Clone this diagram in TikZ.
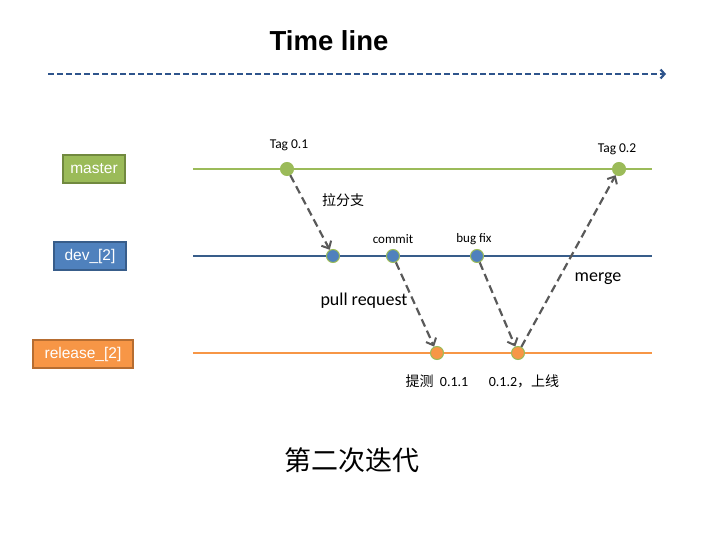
\documentclass[tikz,border=0pt]{standalone}
\usepackage{fontspec}
\setmainfont{Liberation Sans}
\newfontfamily\carfont{Carlito}
\newfontfamily\cjk{Noto Sans CJK SC}
\usepackage{tikz}
\usepackage{xcolor}
\usetikzlibrary{arrows.meta, positioning}
\definecolor{cGreen}{RGB}{155,187,89}
\definecolor{cGreenD}{RGB}{113,137,63}
\definecolor{cBlue}{RGB}{79,129,189}
\definecolor{cBlueD}{RGB}{56,93,138}
\definecolor{cOrange}{RGB}{247,150,70}
\definecolor{cOrangeD}{RGB}{182,109,49}
\definecolor{cTime}{RGB}{46,84,140}
\definecolor{cArrow}{RGB}{89,89,89}
\tikzset{
	branch/.style   ={rectangle, draw, line width=1.2pt, text=white, minimum height=28pt, inner xsep=4pt, font=\fontsize{15.5}{15.5}\selectfont},
	commitdot/.style={circle, draw=cGreen, line width=1pt, minimum size=13pt, inner sep=0pt},
	lbl/.style      ={font=\carfont\fontsize{13.5}{13.5}\selectfont, text=black},
	flow/.style     ={-{Straight Barb[length=6pt, width=11pt, line width=2pt]}, dash pattern=on 8pt off 4.5pt, line width=2.2pt, cArrow},
}

\begin{document}
\begin{tikzpicture}[x=1pt, y=-1pt]
	\useasboundingbox (0,0) rectangle (720,540);
	\node[font=\bfseries\fontsize{27.5}{27.5}\selectfont] (title) at (329,41) {Time line};
	\coordinate (ts) at (48,74); \coordinate (te) at (666,74);
	\draw[cTime, line width=2.2pt, dash pattern=on 6pt off 3pt, -{Straight Barb[length=4pt, width=9pt]}] (ts) -- (te);
	% branches
	\node[branch, draw=cGreenD, fill=cGreen, minimum width=62pt] (master) at (94,169) {master};
	\node[branch, draw=cBlueD, fill=cBlue, minimum width=72pt] (dev) at (90,256) {dev\_{\rmfamily[2]}};
	\node[branch, draw=cOrangeD, fill=cOrange, minimum width=100pt] (release) at (83,354) {release\_{\rmfamily[2]}};
	\coordinate (ms) at (193,169); \coordinate (me) at (652,169);
	\coordinate (ds) at (193,256); \coordinate (de) at (652,256);
	\coordinate (rs) at (193,353); \coordinate (re) at (652,353);
	\draw[cGreen, line width=2pt] (ms) -- (me);
	\draw[cBlueD, line width=2pt] (ds) -- (de);
	\draw[cOrange, line width=2pt] (rs) -- (re);
	% commits
	\foreach \n/\x in {m1/287, m2/619} \node[commitdot, fill=cGreen] (\n) at (\x,169) {};
	\foreach \n/\x in {d1/333, d2/393, d3/477} \node[commitdot, fill=cBlue] (\n) at (\x,256) {};
	\foreach \n/\x in {r1/437, r2/518} \node[commitdot, fill=cOrange] (\n) at (\x,353) {};
	% labels
	\node[lbl] (t1) at (289,145) {Tag 0.1};
	\node[lbl] (t2) at (617,149) {Tag 0.2};
	\node[lbl, font=\carfont\fontsize{13}{13}\selectfont] (c1) at (393,239) {commit};
	\node[lbl, font=\carfont\fontsize{13}{13}\selectfont] (c2) at (474,239) {bug fix};
	\node[lbl, font=\cjk\fontsize{14}{14}\selectfont] (l1) at (343,200) {拉分支};
	\node[lbl, font=\carfont\fontsize{18}{18}\selectfont] (l2) at (364,301) {pull request};
	\node[lbl, font=\carfont\fontsize{18}{18}\selectfont] (l3) at (598,279) {merge};
	\node[lbl, font=\carfont\fontsize{14}{14}\selectfont] (l4) at (437,381) {{\cjk 提测}\ \ 0.1.1};
	\node[lbl, font=\carfont\fontsize{14}{14}\selectfont] (l5) at (524,381) {0.1.2{\cjk ，上线}};
	\node[font=\cjk\fontsize{27}{27}\selectfont] (iter) at (352,460) {第二次迭代};
	% flows
	\draw[flow] (m1) -- (d1);
	\draw[flow] (d2) -- (r1);
	\draw[flow] (d3) -- (r2);
	\draw[flow] (r2) -- (m2);
\end{tikzpicture}
\end{document}
